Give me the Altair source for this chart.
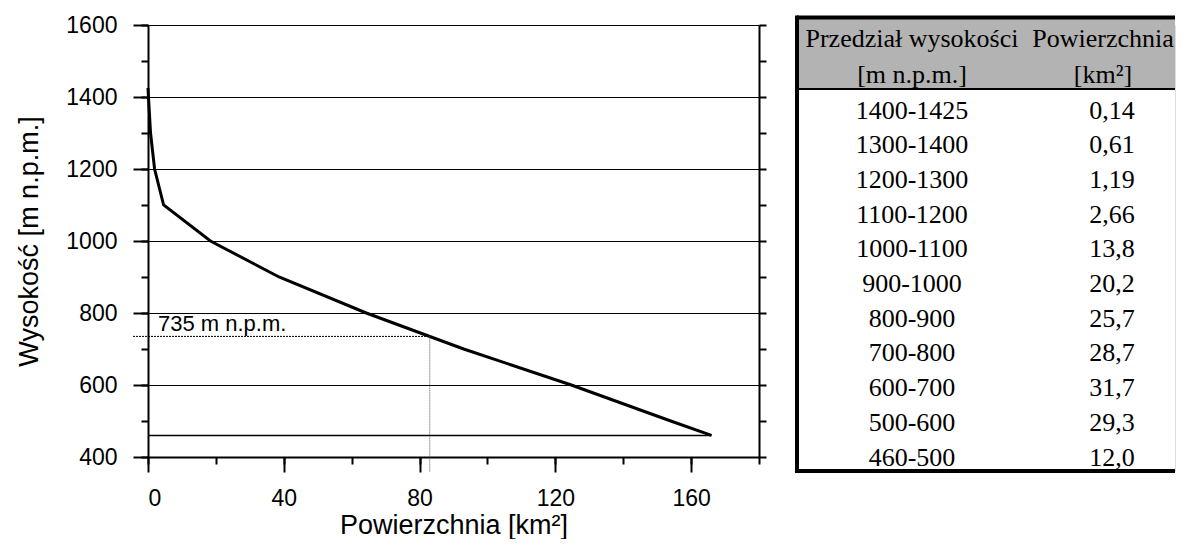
import altair as alt
import pandas as pd
import numpy as np

# ---------------- data ----------------
ranges = ["1400-1425", "1300-1400", "1200-1300", "1100-1200", "1000-1100",
          "900-1000", "800-900", "700-800", "600-700", "500-600", "460-500"]
areas_txt = ["0,14", "0,61", "1,19", "2,66", "13,8", "20,2", "25,7",
             "28,7", "31,7", "29,3", "12,0"]
areas = [0.14, 0.61, 1.19, 2.66, 13.8, 20.2, 25.7, 28.7, 31.7, 29.3, 12.0]
heights = [1425, 1400, 1300, 1200, 1100, 1000, 900, 800, 700, 600, 500, 460]
header_top = ["Przedział wysokości", "Powierzchnia"]
header_bot = ["[m n.p.m.]", "[km²]"]
median_height = 735
median_area = 83.0
median_label = "735 m n.p.m."
x_major = [0, 40, 80, 120, 160]
x_minor = list(range(0, 181, 20))
y_major = list(range(400, 1601, 200))
y_minor = list(range(400, 1601, 100))

cum = [0.0] + list(np.cumsum(areas))

SANS = "Liberation Sans"
SERIF = "Liberation Serif"

# ---------------- left chart ----------------
W, H = 611, 432
xs = alt.Scale(domain=[0, 180], nice=False, zero=False)
ys = alt.Scale(domain=[400, 1600], nice=False, zero=False)

curve_df = pd.DataFrame({"area": cum, "h": heights})
curve = alt.Chart(curve_df).mark_line(color="black", strokeWidth=3).encode(
    x=alt.X("area:Q", scale=xs, axis=alt.Axis(
        orient="bottom", values=x_major, format="d", tickSize=15, tickWidth=2,
        tickColor="black", domainWidth=2, domainColor="black", grid=False,
        labelFont=SANS, labelFontSize=23, labelColor="black", labelPadding=15,
        title="Powierzchnia [km²]", titleFont=SANS, titleFontSize=27,
        titleFontWeight="normal", titleColor="black", titlePadding=2)),
    y=alt.Y("h:Q", scale=ys, axis=alt.Axis(
        orient="left", values=y_major, format="d", tickSize=15, tickWidth=2,
        tickColor="black", domainWidth=2, domainColor="black", grid=True,
        gridColor="black", gridWidth=1, gridOpacity=1,
        labelFont=SANS, labelFontSize=23, labelColor="black", labelPadding=16,
        title="Wysokość [m n.p.m.]", titleFont=SANS, titleFontSize=27,
        titleFontWeight="normal", titleColor="black", titlePadding=22)),
)

base_df = pd.DataFrame({"x0": [0.0], "x1": [cum[-1]], "h": [heights[-1]]})
base = alt.Chart(base_df).mark_rule(color="black", strokeWidth=1.5).encode(
    x=alt.X("x0:Q", scale=xs, axis=alt.Axis(
        orient="bottom", values=x_minor, tickSize=7, tickWidth=2, tickColor="black",
        labels=False, domain=False, grid=False, title=None)),
    x2="x1:Q",
    y=alt.Y("h:Q", scale=ys, axis=alt.Axis(
        orient="left", values=y_minor, tickSize=7, tickWidth=2, tickColor="black",
        labels=False, domain=False, grid=False, title=None)),
)

med_df = pd.DataFrame({"x0": [0.0], "x1": [median_area], "h": [median_height],
                       "lo": [400], "label": [median_label]})
hline = alt.Chart(med_df).mark_rule(color="black", strokeWidth=1, strokeDash=[2, 1],
                                    xOffset=-15).encode(
    x=alt.X("x0:Q", scale=xs, axis=None),
    x2="x1:Q",
    y=alt.Y("h:Q", scale=ys, axis=alt.Axis(
        orient="right", values=y_minor, tickSize=7, tickWidth=2, tickColor="black",
        domainWidth=2, domainColor="black", labels=False, grid=False, title=None)),
)
vline = alt.Chart(med_df).mark_rule(color="#555555", strokeWidth=1, strokeDash=[1, 1],
                                    y2Offset=15).encode(
    x=alt.X("x1:Q", scale=xs, axis=None),
    y=alt.Y("h:Q", scale=ys, axis=None),
    y2="lo:Q",
)
label = alt.Chart(med_df).mark_text(align="left", baseline="alphabetic", dx=10, dy=-5,
                                    font=SANS, fontSize=22, color="black").encode(
    x=alt.X("x0:Q", scale=xs, axis=None),
    y=alt.Y("h:Q", scale=ys, axis=None),
    text="label:N",
)

left = alt.layer(curve, base, hline, vline, label).resolve_axis(
    x="independent", y="independent").properties(width=W, height=H)

# ---------------- table ----------------
TW, TH = 378, 446
row_step = 34.7
row0 = 93.5           # baseline of first row inside the view (px)
col0, col_step = 115, 200
head2_shift = -9      # header of the 2nd column sits a little left so it fits


def r_of(px):
    return (px - row0) / row_step


ty = alt.Scale(domain=[r_of(0), r_of(TH)], reverse=True, nice=False, zero=False)
tx = alt.Scale(domain=[-col0 / col_step, (TW - col0) / col_step], nice=False, zero=False)

r_top, r_hdr, r_bot = r_of(-7.5), r_of(64), r_of(TH)
r_h1, r_h2 = r_of(22), r_of(58)
c_h2 = 1 + head2_shift / col_step

hdr_df = pd.DataFrame({"t": [r_top], "b": [r_hdr]})
hdr_rect = alt.Chart(hdr_df).mark_rect(color="#b3b3b3").encode(
    x=alt.value(0), x2=alt.value("width"),
    y=alt.Y("t:Q", scale=ty, axis=None), y2="b:Q")

hl_df = pd.DataFrame({"r": [r_top, r_hdr, r_bot], "w": [4, 2, 4]})
hlines = alt.Chart(hl_df).mark_rule(color="black").encode(
    x=alt.value(0), x2=alt.value("width"),
    y=alt.Y("r:Q", scale=ty, axis=None),
    strokeWidth=alt.StrokeWidth("w:Q", scale=None, legend=None))

vb_df = pd.DataFrame({"t": [r_top], "b": [r_bot]})
vborder = alt.Chart(vb_df).mark_rule(color="black", strokeWidth=4, strokeCap="square").encode(
    x=alt.value(0), y=alt.Y("t:Q", scale=ty, axis=None), y2="b:Q")

head_df = pd.DataFrame({
    "c": [0, c_h2, 0, c_h2],
    "r": [r_h1, r_h1, r_h2, r_h2],
    "t": header_top + header_bot,
})
head_txt = alt.Chart(head_df).mark_text(font=SERIF, fontSize=26, color="black",
                                        align="center", baseline="alphabetic").encode(
    x=alt.X("c:Q", scale=tx, axis=None),
    y=alt.Y("r:Q", scale=ty, axis=None),
    text="t:N")

body_df = pd.DataFrame({
    "c": [0] * len(ranges) + [1] * len(areas_txt),
    "r": list(range(len(ranges))) * 2,
    "t": ranges + areas_txt,
})
body_txt = alt.Chart(body_df).mark_text(font=SERIF, fontSize=26, color="black",
                                        align="center", baseline="alphabetic").encode(
    x=alt.X("c:Q", scale=tx, axis=None),
    y=alt.Y("r:Q", scale=ty, axis=None),
    text="t:N")

table = alt.layer(hdr_rect, hlines, vborder, head_txt, body_txt).properties(
    width=TW, height=TH)

chart = alt.hconcat(left, table, spacing=25).properties(
    padding={"left": 7, "top": 5, "right": 0, "bottom": 0}
).configure_view(stroke=None).configure(background="white")

chart.save("out.html", embed_options={"renderer": "svg", "actions": False})
